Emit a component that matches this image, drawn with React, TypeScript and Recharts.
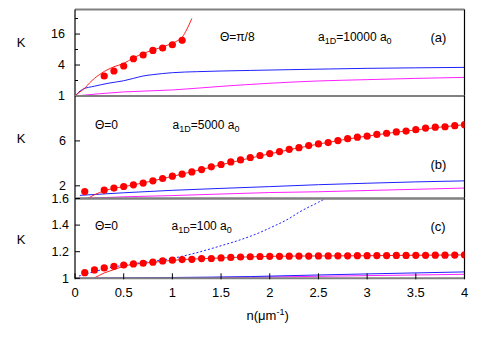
import React from 'react';
import { ComposedChart, Line, XAxis, YAxis } from 'recharts';

// ---------- shared ----------
const xTicks = [0, 0.5, 1, 1.5, 2, 2.5, 3, 3.5, 4];
const FONT = 'Liberation Sans, Arial, Helvetica, sans-serif';

// ---------- panel (a) : Θ=π/8, a1D=10000 a0 (log K) ----------
const aTicks = [1, 2, 4, 8, 16, 32];
const aTickLabels = [1, 4, 16];
const aRedLineX = [0, 0.05, 0.1, 0.15, 0.2, 0.25, 0.3, 0.4, 0.5, 0.6, 0.7, 0.8, 0.9, 1.0, 1.05, 1.1, 1.15, 1.2];
const aRedLineK = [1, 1.2, 1.42, 1.8, 2.2, 2.6, 3.0, 3.7, 4.3, 5.5, 6.7, 7.8, 9.0, 10.6, 11.8, 13.8, 20, 32];
const aDotsX = [0.3, 0.4, 0.5, 0.6, 0.7, 0.8, 0.9, 1.0, 1.1];
const aDotsK = [2.45, 3.06, 3.83, 5.3, 6.26, 7.7, 8.56, 9.9, 12.1];
const aBlueX = [0, 0.03, 0.08, 0.2, 0.35, 0.5, 0.6, 0.7, 0.8, 1.0, 1.25, 1.5, 1.8, 2.2, 2.6, 3.0, 3.5, 4.0];
const aBlueK = [1, 1.15, 1.35, 1.55, 1.78, 1.98, 2.2, 2.45, 2.6, 2.84, 2.97, 3.06, 3.14, 3.25, 3.35, 3.45, 3.53, 3.6];
const aMagX = [0, 0.5, 1.0, 1.5, 2.0, 2.5, 3.0, 3.5, 4.0];
const aMagK = [1, 1.2, 1.31, 1.54, 1.77, 1.96, 2.08, 2.2, 2.3];

// ---------- panel (b) : Θ=0, a1D=5000 a0 ----------
const bTicks = [2, 6];
const bDotsX = [0.1, 0.3, 0.4, 0.5, 0.6, 0.7, 0.8, 0.9, 1.0, 1.1, 1.2, 1.3, 1.4, 1.5, 1.6, 1.7, 1.8, 1.9, 2.0, 2.1, 2.2, 2.3, 2.4, 2.5, 2.6, 2.7, 2.8, 2.9, 3.0, 3.1, 3.2, 3.3, 3.4, 3.5, 3.6, 3.7, 3.8, 3.9, 4.0];
const bDotsK = [1.49, 1.62, 1.8, 1.94, 2.09, 2.24, 2.44, 2.65, 2.86, 3.04, 3.24, 3.45, 3.69, 3.9, 4.13, 4.31, 4.52, 4.7, 4.87, 5.05, 5.25, 5.4, 5.58, 5.73, 5.85, 6.03, 6.2, 6.33, 6.42, 6.58, 6.68, 6.8, 6.88, 7.0, 7.14, 7.22, 7.26, 7.36, 7.45];
const bRedLineX = [0.13, 0.2, 0.3, 0.4, 0.5, 1.0, 1.5, 2.0, 2.5, 3.0, 3.5, 4.0];
const bRedLineK = [0.87, 1.2, 1.55, 1.78, 1.92, 2.84, 3.88, 4.85, 5.72, 6.43, 6.98, 7.45];
const bBlueX = [0.05, 0.5, 1.0, 1.5, 2.0, 2.5, 3.0, 3.5, 4.0];
const bBlueK = [1.15, 1.38, 1.6, 1.77, 1.93, 2.1, 2.23, 2.35, 2.44];
const bMagX = [0.1, 0.5, 1.0, 1.5, 2.0, 2.5, 3.0, 3.5, 4.0];
const bMagK = [0.88, 1.02, 1.13, 1.27, 1.4, 1.47, 1.58, 1.69, 1.8];

// ---------- panel (c) : Θ=0, a1D=100 a0 ----------
const cTicks = [1, 1.2, 1.4, 1.6];
const cDotsX = [0.1, 0.2, 0.3, 0.4, 0.5, 0.6, 0.7, 0.8, 0.9, 1.0, 1.1, 1.2, 1.3, 1.4, 1.5, 1.6, 1.7, 1.8, 1.9, 2.0, 2.1, 2.2, 2.3, 2.4, 2.5, 2.6, 2.7, 2.8, 2.9, 3.0, 3.1, 3.2, 3.3, 3.4, 3.5, 3.6, 3.7, 3.8, 3.9, 4.0];
const cDotsK = [1.042, 1.063, 1.078, 1.09, 1.1, 1.108, 1.113, 1.121, 1.131, 1.136, 1.141, 1.143, 1.148, 1.149, 1.153, 1.157, 1.16, 1.162, 1.164, 1.165, 1.165, 1.166, 1.167, 1.167, 1.168, 1.168, 1.169, 1.169, 1.17, 1.17, 1.171, 1.171, 1.172, 1.172, 1.173, 1.173, 1.174, 1.174, 1.175, 1.176];
const cRedLineX = [0.19, 0.25, 0.3, 0.4, 0.5, 0.6, 0.8, 1.0, 1.5, 2.0, 2.5, 3.0, 3.5, 4.0];
const cRedLineK = [1.0, 1.022, 1.04, 1.065, 1.09, 1.105, 1.12, 1.135, 1.153, 1.165, 1.168, 1.17, 1.173, 1.176];
const cDashX = [0.04, 0.2, 0.3, 0.5, 0.7, 1.0, 1.2, 1.5, 1.7, 1.9, 2.0, 2.2, 2.3, 2.5, 2.6];
const cDashK = [1.017, 1.05, 1.07, 1.098, 1.12, 1.15, 1.183, 1.245, 1.29, 1.345, 1.378, 1.45, 1.496, 1.572, 1.61];
const cBlueX = [0, 1.0, 1.8, 2.5, 3.0, 4.0];
const cBlueK = [1.0, 1.006, 1.013, 1.025, 1.033, 1.048];
const cMagX = [0, 1.0, 2.0, 3.0, 4.0];
const cMagK = [1.0, 1.003, 1.01, 1.02, 1.03];

const pts = (xs: number[], ys: number[]) => xs.map((x, i) => ({ x, y: ys[i] }));

const makeLeftTick = (labels: number[], gap: number) => (props: any) => {
  const { x, y, payload } = props;
  const ax = x + 8;
  const v = Number(payload.value);
  const major = labels.some((l) => Math.abs(l - v) < 1e-9);
  return (
    <g>
      <line x1={ax} x2={ax + (major ? 5 : 3)} y1={y} y2={y} stroke="#000" strokeWidth={1} />
      {major && (
        <text x={ax - gap} y={y} dy={4.3} textAnchor="end" fontSize={12.5} fill="#000" fontFamily={FONT}>
          {String(v)}
        </text>
      )}
    </g>
  );
};

const BottomTick = (props: any) => {
  const { x, y, payload } = props;
  const ay = y - 8;
  return (
    <g>
      <line x1={x} x2={x} y1={ay + 1} y2={ay - 5} stroke="#000" strokeWidth={1} />
      <text x={x} y={ay + 19} textAnchor="middle" fontSize={13} fill="#000" fontFamily={FONT}>
        {String(payload.value)}
      </text>
    </g>
  );
};

const GRAY = '#808080';
const RED = '#ff2020';
const BLUE = '#2020ff';
const MAG = '#ff20ff';

const dotStyle = { r: 3.6, fill: '#ff0000', stroke: 'none' };

interface PanelProps {
  top: number;
  height: number;
  mTop: number;
  mBottom: number;
  yDomain: [number, number];
  yTicks: number[];
  yLabels: number[];
  rightTicks: number[];
  labelGap: number;
  log?: boolean;
  bottomLabels?: boolean;
  children: React.ReactNode;
}

const Panel = ({ top, height, mTop, mBottom, yDomain, yTicks, yLabels, rightTicks, labelGap, log, bottomLabels, children }: PanelProps) => (
  <div style={{ position: 'absolute', left: 0, top, width: 491, height }}>
    <ComposedChart
      width={491}
      height={height}
      margin={{ top: mTop, right: 26.5, bottom: bottomLabels ? mBottom - 1 : mBottom, left: 74 }}
    >
      {bottomLabels ? (
        <XAxis
          xAxisId={0}
          dataKey="x"
          type="number"
          domain={[0, 4]}
          ticks={xTicks}
          interval={0}
          height={1}
          allowDataOverflow
          axisLine={{ stroke: GRAY, strokeWidth: 2 }}
          tick={BottomTick}
          tickLine={false}
        />
      ) : (
        <XAxis
          xAxisId={0}
          dataKey="x"
          type="number"
          domain={[0, 4]}
          ticks={xTicks}
          interval={0}
          height={1}
          allowDataOverflow
          mirror
          tick={false}
          tickSize={5}
          tickLine={{ stroke: '#000' }}
          axisLine={{ stroke: GRAY, strokeWidth: 2 }}
        />
      )}
      <XAxis
        xAxisId="top"
        orientation="top"
        dataKey="x"
        type="number"
        domain={[0, 4]}
        ticks={xTicks}
        interval={0}
        height={1}
        mirror
        tick={false}
        tickSize={5}
        tickLine={{ stroke: '#000' }}
        axisLine={{ stroke: GRAY, strokeWidth: 2 }}
      />
      <YAxis
        yAxisId={0}
        type="number"
        scale={log ? 'log' : 'linear'}
        domain={yDomain}
        ticks={yTicks}
        interval={0}
        width={1}
        allowDataOverflow
        tick={makeLeftTick(yLabels, labelGap)}
        tickLine={false}
        axisLine={{ stroke: '#000', strokeWidth: 1.2 }}
      />
      <YAxis
        yAxisId="r"
        orientation="right"
        type="number"
        scale={log ? 'log' : 'linear'}
        domain={yDomain}
        ticks={rightTicks.length ? rightTicks : yTicks}
        interval={0}
        width={1}
        mirror
        allowDataOverflow
        tick={false}
        tickSize={rightTicks.length ? 4 : 0}
        tickLine={rightTicks.length ? { stroke: '#333' } : false}
        axisLine={{ stroke: '#000', strokeWidth: 1.2 }}
      />
      {children}
    </ComposedChart>
  </div>
);

const lineProps = { dataKey: 'y', dot: false, isAnimationActive: false, activeDot: false as const, strokeWidth: 1 };

export default function App() {
  return (
    <div style={{ position: 'absolute', left: 0, top: 0, width: 491, height: 343, background: '#fff', fontFamily: FONT }}>
      {/* (a) */}
      <Panel top={0} height={106} mTop={9.5} mBottom={10} yDomain={[1, 48]} yTicks={aTicks} yLabels={aTickLabels} rightTicks={[]} labelGap={10} log>
        <Line {...lineProps} data={pts(aMagX, aMagK)} type="monotone" stroke={MAG} />
        <Line {...lineProps} data={pts(aBlueX, aBlueK)} type="monotone" stroke={BLUE} />
        <Line {...lineProps} data={pts(aRedLineX, aRedLineK)} type="monotone" stroke={RED} />
        <Line dataKey="y" data={pts(aDotsX, aDotsK)} stroke="none" dot={dotStyle} activeDot={false} isAnimationActive={false} />
      </Panel>
      {/* (b) */}
      <Panel top={90} height={115} mTop={6} mBottom={6.5} yDomain={[0.87, 10]} yTicks={bTicks} yLabels={bTicks} rightTicks={bTicks} labelGap={9}>
        <Line {...lineProps} data={pts(bMagX, bMagK)} type="monotone" stroke={MAG} />
        <Line {...lineProps} data={pts(bBlueX, bBlueK)} type="monotone" stroke={BLUE} />
        <Line {...lineProps} data={pts(bRedLineX, bRedLineK)} type="monotone" stroke={RED} />
        <Line dataKey="y" data={pts(bDotsX, bDotsK)} stroke="none" dot={dotStyle} activeDot={false} isAnimationActive={false} />
      </Panel>
      {/* (c) */}
      <Panel top={190} height={153} mTop={8.5} mBottom={64.7} yDomain={[1, 1.6]} yTicks={cTicks} yLabels={cTicks} rightTicks={[1.2, 1.4]} labelGap={6} bottomLabels>
        <Line {...lineProps} data={pts(cMagX, cMagK)} type="monotone" stroke={MAG} />
        <Line {...lineProps} data={pts(cBlueX, cBlueK)} type="monotone" stroke={BLUE} />
        <Line {...lineProps} data={pts(cRedLineX, cRedLineK)} type="monotone" stroke={RED} />
        <Line {...lineProps} data={pts(cDashX, cDashK)} type="monotone" stroke={BLUE} strokeDasharray="2 2" />
        <Line dataKey="y" data={pts(cDotsX, cDotsK)} stroke="none" dot={dotStyle} activeDot={false} isAnimationActive={false} />
      </Panel>

      <svg width={491} height={343} style={{ position: 'absolute', left: 0, top: 0, pointerEvents: 'none' }} fontFamily={FONT} fill="#000">
        <text x={21} y={46.5} textAnchor="middle" fontSize={13}>K</text>
        <text x={21} y={142.5} textAnchor="middle" fontSize={13}>K</text>
        <text x={21} y={243.5} textAnchor="middle" fontSize={13}>K</text>

        <text x={220} y={40.5} fontSize={12}>Θ=π/8</text>
        <text x={318} y={40.5} fontSize={12}>
          a<tspan dy={3} fontSize={9}>1D</tspan>
          <tspan dy={-3}>=10000 a</tspan>
          <tspan dy={3} fontSize={9}>0</tspan>
        </text>
        <text x={430.5} y={42} fontSize={13}>(a)</text>

        <text x={95} y={128.5} fontSize={12}>Θ=0</text>
        <text x={172.5} y={128.5} fontSize={12}>
          a<tspan dy={3} fontSize={9}>1D</tspan>
          <tspan dy={-3}>=5000 a</tspan>
          <tspan dy={3} fontSize={9}>0</tspan>
        </text>
        <text x={430.5} y={168.5} fontSize={13}>(b)</text>

        <text x={95} y={230} fontSize={12}>Θ=0</text>
        <text x={171.5} y={229.5} fontSize={12}>
          a<tspan dy={3} fontSize={9}>1D</tspan>
          <tspan dy={-3}>=100 a</tspan>
          <tspan dy={3} fontSize={9}>0</tspan>
        </text>
        <text x={430.5} y={230.5} fontSize={13}>(c)</text>

        <text x={246.5} y={319.5} fontSize={13}>
          n(μm<tspan dy={-5} fontSize={9}>-1</tspan>
          <tspan dy={5}>)</tspan>
        </text>
      </svg>
    </div>
  );
}
